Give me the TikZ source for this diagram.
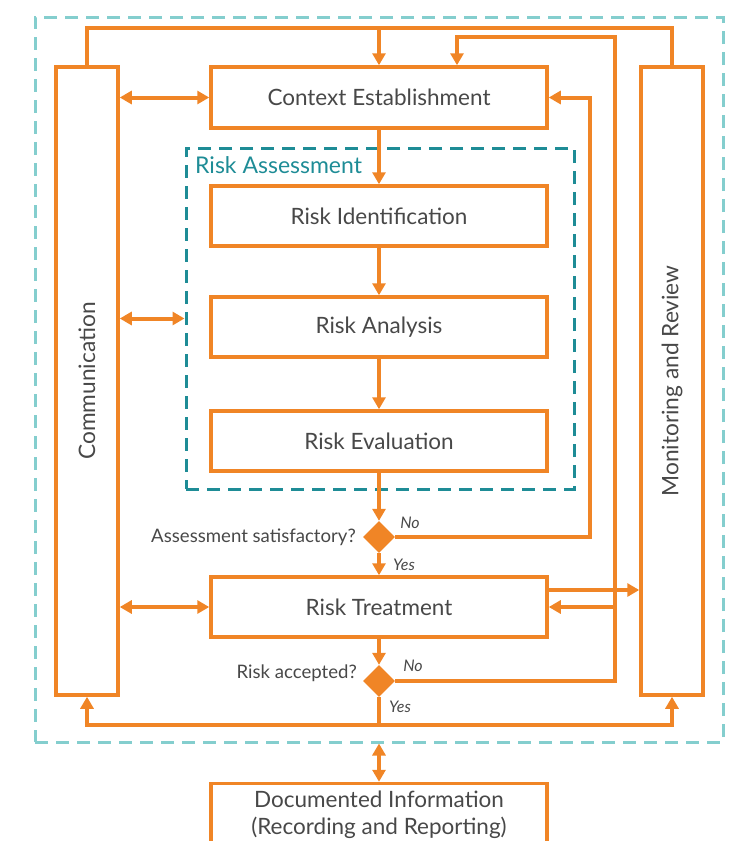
\documentclass[tikz,border=0pt]{standalone}
\usepackage{fontspec}
\setmainfont{Lato}
\usetikzlibrary{shapes.geometric,arrows.meta}
\definecolor{org}{RGB}{240,133,38}
\definecolor{tealdk}{RGB}{30,140,150}
\definecolor{teallt}{RGB}{132,206,206}
\definecolor{txt}{RGB}{72,72,72}
\tikzset{
  box/.style={draw=org,line width=3.5pt,minimum width=336pt,minimum height=61pt,inner sep=0pt,text=txt,font=\fontsize{22.5}{27}\selectfont},
  sidebox/.style={draw=org,line width=3.5pt,minimum width=62pt,minimum height=628pt,inner sep=0pt},
  ln/.style={draw=org,line width=4pt},
  arr/.style={ln,-{Triangle[length=12pt,width=13pt]}},
  darr/.style={ln,{Triangle[length=12pt,width=13pt]}-{Triangle[length=12pt,width=13pt]}},
  dia/.style={diamond,fill=org,inner sep=0pt,minimum width=32pt,minimum height=32pt},
  small/.style={text=txt,font=\fontsize{18.6}{22}\selectfont,inner sep=0pt},
  yn/.style={text=txt,font=\fontsize{16}{19}\selectfont\itshape,inner sep=0pt},
  sidelab/.style={rotate=90,text=txt,font=\fontsize{22.7}{27}\selectfont},
}
\begin{document}
\begin{tikzpicture}[x=1pt,y=-1pt]
\useasboundingbox (0,0) rectangle (730,841);
\clip (0,0) rectangle (730,841);
% outer dashed
\node[draw=teallt,line width=3pt,dash pattern=on 13pt off 8pt,minimum width=688pt,minimum height=725pt,inner sep=0pt] (outer) at (379,379.5) {};
% risk assessment dashed
\node[draw=tealdk,line width=3pt,dash pattern=on 13pt off 8pt,minimum width=388pt,minimum height=341pt,inner sep=0pt] (ra) at (380,318.5) {};
\node[anchor=west,text=tealdk,font=\fontsize{23}{27}\selectfont,inner sep=0pt] (ralab) at (195,165) {Risk Assessment};
% boxes
\node[box] (ctx) at (379,97.5) {Context Establishment};
\node[box,minimum height=60pt] (rid) at (379,216) {Risk Identification};
\node[box,minimum height=60pt] (ran) at (379,327) {Risk Analysis};
\node[box,minimum height=60pt] (rev) at (379,441) {Risk Evaluation};
\node[box,minimum height=60pt] (rtr) at (379,607) {Risk Treatment};
\node[box,minimum height=63pt,align=center,font=\fontsize{22.5}{27}\selectfont] (doc) at (379,815) {Documented Information\\(Recording and Reporting)};
\node[sidebox] (comm) at (87,381) {};
\node[sidelab] (commlab) at (comm.center) {Communication};
\node[sidebox] (mon) at (672,381) {};
\node[sidelab] (monlab) at (mon.center) {Monitoring and Review};
% diamonds
\node[dia] (d1) at (379,537) {};
\node[dia] (d2) at (379,681) {};
\node[small,anchor=east] (q1) at (356,537) {Assessment satisfactory?};
\node[small,anchor=east] (q2) at (357,673) {Risk accepted?};
\node[yn] (no1) at (410,523) {No};
\node[yn] (yes1) at (404,565) {Yes};
\node[yn] (no2) at (413,666) {No};
\node[yn] (yes2) at (400,707) {Yes};
% coordinates
\coordinate (topL) at (87,28);
\coordinate (topM) at (379,28);
\coordinate (topR) at (672,28);
\coordinate (c2a) at (615,37);
\coordinate (c2b) at (457,37);
\coordinate (c3) at (590,97.5);
\coordinate (bot) at (379,725);
% top loop
\draw[ln,line join=miter] (comm.north) -- (topL) -- (topR) -- (mon.north);
\draw[arr] (topM) -- (ctx.north);
% risk accepted No loop
\draw[arr,line join=miter] (d2.east) -| (c2a) -- (c2b) -- (c2b |- ctx.north);
\draw[arr] (c2a |- rtr.east) -- (rtr.east);
% assessment No loop
\draw[arr,line join=miter] (d1.east) -| (c3) -- (ctx.east);
% treatment to monitoring
\draw[arr] ([yshift=17pt]rtr.east) -- ([yshift=17pt]rtr.east -| mon.west);
% communication links
\draw[darr] (comm.east |- ctx.west) -- (ctx.west);
\draw[darr] (comm.east |- ra.west) -- (ra.west);
\draw[darr] (comm.east |- rtr.west) -- (rtr.west);
% main flow
\draw[arr] (ctx.south) -- (rid.north);
\draw[arr] (rid.south) -- (ran.north);
\draw[arr] (ran.south) -- (rev.north);
\draw[arr] (rev.south) -- (d1.north);
\draw[arr] (d1.south) -- (rtr.north);
\draw[arr] (rtr.south) -- (d2.north);
\draw[ln] (d2.south) -- (bot);
\draw[arr,line join=miter] (bot) -| (comm.south);
\draw[arr,line join=miter] (bot) -| (mon.south);
\draw[darr] (outer.south) -- (doc.north);
\end{tikzpicture}
\end{document}
